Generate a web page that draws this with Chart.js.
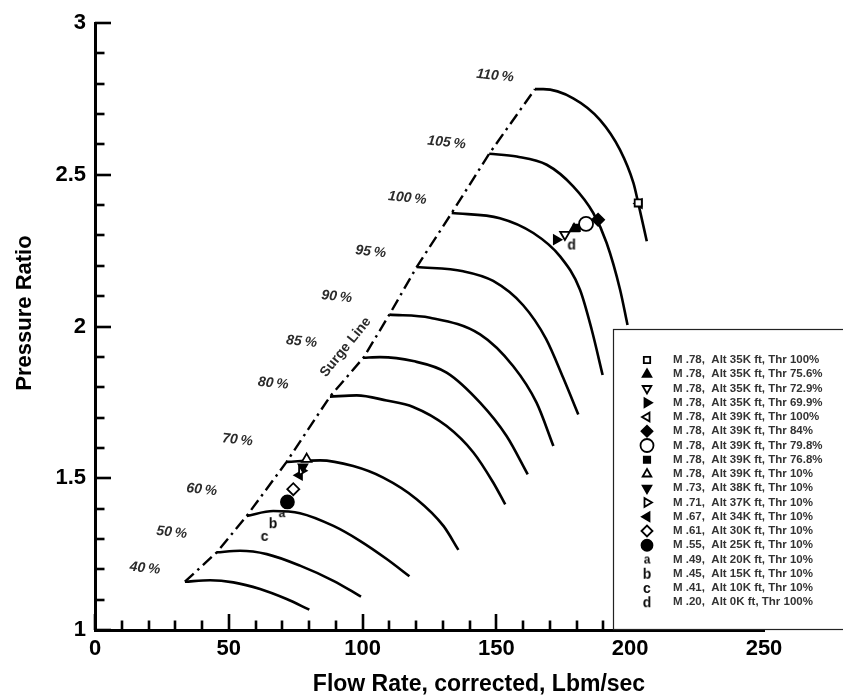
<!DOCTYPE html>
<html>
<head>
<meta charset="utf-8">
<script src="https://cdn.jsdelivr.net/npm/chart.js@4.4.0/dist/chart.umd.min.js"></script>
<style>
  html, body { margin: 0; padding: 0; background: #fff; }
  #map { display: block; }
</style>
</head>
<body>
<canvas id="map" width="843" height="698"></canvas>
<script>
// Compressor map: corrected speed lines, surge line and operating points

const xTickLabels = [0, 50, 100, 150, 200, 250];
const yTickLabels = [1, 1.5, 2, 2.5, 3];

const speedNames = ['40%', '50%', '60%', '70%', '80%', '85%', '90%', '95%', '100%', '105%', '110%'];

// [flow, pressure ratio] along each speed line
const line40 = [[33.6, 1.159], [43, 1.164], [51.7, 1.157], [61.7, 1.135], [71.6, 1.102], [80.1, 1.067]];
const line50 = [[45.5, 1.256], [54.2, 1.261], [64.2, 1.250], [76.6, 1.212], [89.1, 1.162], [99.4, 1.110]];
const line60 = [[56.7, 1.376], [66.6, 1.392], [76.6, 1.385], [89.1, 1.343], [99.0, 1.294], [109.0, 1.234], [117.5, 1.177]];
const line70 = [[71.6, 1.554], [84.1, 1.559], [96.5, 1.540], [107.7, 1.502], [120.2, 1.431], [130.2, 1.343], [135.8, 1.264]];
const line80 = [[87.8, 1.769], [97.8, 1.773], [109, 1.756], [118.9, 1.735], [131.4, 1.672], [141.4, 1.585], [148.8, 1.486], [153.3, 1.414]];
const line85 = [[100.3, 1.897], [106.5, 1.899], [118.9, 1.886], [131.4, 1.848], [143.9, 1.749], [153.8, 1.639], [161.7, 1.513]];
const line90 = [[110.0, 2.039], [125.2, 2.029], [143.9, 1.974], [156.3, 1.869], [165.0, 1.749], [171.3, 1.606]];
const line95 = [[120.2, 2.196], [137.6, 2.182], [148.8, 2.150], [160, 2.070], [168.5, 1.960], [175, 1.830], [180.6, 1.710]];
const line100 = [[133.3, 2.374], [151.3, 2.357], [163.8, 2.308], [173.8, 2.231], [181.2, 2.122], [185.6, 1.990], [189.7, 1.840]];
const line105 = [[147.3, 2.569], [157.6, 2.560], [168.8, 2.533], [178.7, 2.462], [186.2, 2.374], [191.2, 2.275], [196.2, 2.122], [199.0, 2.005]];
const line110 = [[164.4, 2.782], [167.5, 2.782], [178.7, 2.752], [188.7, 2.681], [196.2, 2.582], [201.2, 2.473], [203.0, 2.407], [206.2, 2.281]];

const speedLines = [line40, line50, line60, line70, line80, line85, line90, line95, line100, line105, line110];

// surge line runs through the left end of every speed line
const surgeFlow = [33.6, 45.5, 56.7, 71.6, 87.8, 100.3, 110.0, 120.2, 133.3, 147.3, 164.4];
const surgePR = [1.159, 1.256, 1.376, 1.554, 1.769, 1.897, 2.039, 2.196, 2.374, 2.569, 2.782];

// operating points
const pointNames = [
    'M .78,  Alt 35K ft, Thr 100%',
    'M .78,  Alt 35K ft, Thr 75.6%',
    'M .78,  Alt 35K ft, Thr 72.9%',
    'M .78,  Alt 35K ft, Thr 69.9%',
    'M .78,  Alt 39K ft, Thr 100%',
    'M .78,  Alt 39K ft, Thr 84%',
    'M .78,  Alt 39K ft, Thr 79.8%',
    'M .78,  Alt 39K ft, Thr 76.8%',
    'M .78,  Alt 39K ft, Thr 10%',
    'M .73,  Alt 38K ft, Thr 10%',
    'M .71,  Alt 37K ft, Thr 10%',
    'M .67,  Alt 34K ft, Thr 10%',
    'M .61,  Alt 30K ft, Thr 10%',
    'M .55,  Alt 25K ft, Thr 10%',
    'M .49,  Alt 20K ft, Thr 10%',
    'M .45,  Alt 15K ft, Thr 10%',
    'M .41,  Alt 10K ft, Thr 10%',
    'M .20,  Alt 0K ft, Thr 100%'
];
const pointFlow = [203.0, 179.0, 175.6, 172.4, 203.4, 188.0, 183.5, 180.0, 79.1, 77.7, 77.2, 76.4, 74.1, 71.9, 69.8, 66.5, 63.4, 178.1];
const pointPR = [2.407, 2.322, 2.303, 2.286, 2.405, 2.352, 2.338, 2.325, 1.563, 1.537, 1.525, 1.510, 1.464, 1.422, 1.385, 1.352, 1.310, 2.270];

// where the speed labels sit (flow, pressure ratio)
const speedLabelFlow = [18.7, 28.7, 39.9, 53.2, 66.6, 77.2, 90.3, 103.0, 116.7, 131.4, 149.5];
const speedLabelPR = [1.203, 1.321, 1.462, 1.626, 1.8125, 1.950, 2.098, 2.246, 2.423, 2.606, 2.826];

const FONT = '"Liberation Sans", Arial, sans-serif';

// letter symbols used as point styles
function letterSymbol(ch, size) {
    const c = document.createElement('canvas');
    c.width = size + 2;
    c.height = size + 4;
    const g = c.getContext('2d');
    g.fillStyle = '#111';
    g.font = 'bold ' + size + 'px ' + FONT;
    g.textAlign = 'center';
    g.textBaseline = 'middle';
    g.fillText(ch, c.width / 2, c.height / 2 + 1);
    return c;
}

// style, rotation, filled, radius
const pointLook = [
    ['rect', 0, false, 5],
    ['triangle', 0, true, 5],
    ['triangle', 180, false, 5.5],
    ['triangle', 90, true, 5],
    ['triangle', -90, false, 5],
    ['rectRot', 0, true, 6],
    ['circle', 0, false, 7],
    ['rect', 0, true, 4.5],
    ['triangle', 0, false, 5.5],
    ['triangle', 180, true, 5],
    ['triangle', 90, false, 5],
    ['triangle', -90, true, 5],
    ['rectRot', 0, false, 6],
    ['circle', 0, true, 6.5],
    [letterSymbol('a', 12), 0, true, 5],
    [letterSymbol('b', 14), 0, true, 5],
    [letterSymbol('c', 14), 0, true, 5],
    [letterSymbol('d', 14), 0, true, 5]
];

const datasets = [];
speedLines.forEach((line, i) => {
    datasets.push({
        label: speedNames[i],
        data: line.map(p => ({ x: p[0], y: p[1] })),
        showLine: true,
        borderColor: '#000',
        borderWidth: 2.6,
        pointRadius: 0,
        cubicInterpolationMode: 'monotone',
        order: 2
    });
});
datasets.push({
    label: 'Surge Line',
    data: surgeFlow.map((f, i) => ({ x: f, y: surgePR[i] })),
    showLine: true,
    borderColor: '#000',
    borderWidth: 2.4,
    borderDash: [12, 5, 2.5, 5],
    pointRadius: 0,
    tension: 0,
    order: 2
});
pointNames.forEach((name, i) => {
    const look = pointLook[i];
    datasets.push({
        label: name,
        data: [{ x: pointFlow[i], y: pointPR[i] }],
        showLine: false,
        pointStyle: look[0],
        rotation: look[1],
        pointRadius: look[3],
        pointBackgroundColor: look[2] ? '#000' : '#fff',
        pointBorderColor: '#000',
        pointBorderWidth: 1.8,
        order: 1
    });
});

function isMultiple(v, step) {
    const r = v / step;
    return Math.abs(r - Math.round(r)) < 1e-6;
}

// inward tick marks on both axes
const innerTicks = {
    id: 'innerTicks',
    afterDraw(chart) {
        const { ctx, chartArea } = chart;
        const xs = chart.scales.x, ys = chart.scales.y;
        ctx.save();
        ctx.strokeStyle = '#000';
        ctx.lineWidth = 2.6;
        xs.ticks.forEach(t => {
            const px = Math.round(xs.getPixelForValue(t.value));
            const len = isMultiple(t.value, 50) ? 16 : 9.5;
            ctx.beginPath();
            ctx.moveTo(px, chartArea.bottom);
            ctx.lineTo(px, chartArea.bottom - len);
            ctx.stroke();
        });
        ys.ticks.forEach(t => {
            const py = Math.round(ys.getPixelForValue(t.value));
            const len = isMultiple(t.value, 0.5) ? 16 : 9.5;
            ctx.beginPath();
            ctx.moveTo(chartArea.left, py);
            ctx.lineTo(chartArea.left + len, py);
            ctx.stroke();
        });
        ctx.restore();
    }
};

// axis titles, placed by hand
const axisTitles = {
    id: 'axisTitles',
    afterDraw(chart) {
        const { ctx } = chart;
        ctx.save();
        ctx.fillStyle = '#000';
        ctx.textAlign = 'center';
        ctx.textBaseline = 'middle';
        ctx.font = 'bold 23px ' + FONT;
        ctx.fillText('Flow Rate, corrected, Lbm/sec', 479, 685);
        ctx.translate(25, 313);
        ctx.rotate(-Math.PI / 2);
        ctx.font = 'bold 22px ' + FONT;
        ctx.fillText('Pressure Ratio', 0, 0);
        ctx.restore();
    }
};

// speed percentages and the surge line caption
const mapLabels = {
    id: 'mapLabels',
    afterDatasetsDraw(chart) {
        const { ctx } = chart;
        const xs = chart.scales.x, ys = chart.scales.y;
        ctx.save();
        ctx.fillStyle = '#2b2b2b';
        ctx.font = 'italic bold 14px ' + FONT;
        ctx.textAlign = 'center';
        ctx.textBaseline = 'middle';
        speedNames.forEach((name, i) => {
            ctx.save();
            ctx.translate(xs.getPixelForValue(speedLabelFlow[i]), ys.getPixelForValue(speedLabelPR[i]));
            ctx.rotate(6 * Math.PI / 180);
            ctx.fillText(name.replace('%', '\u2009%'), 0, 0);
            ctx.restore();
        });
        ctx.translate(xs.getPixelForValue(93.7), ys.getPixelForValue(1.932));
        ctx.rotate(-51 * Math.PI / 180);
        ctx.font = 'bold 14px ' + FONT;
        ctx.fillText('Surge Line', 0, 0);
        ctx.restore();
    }
};

// legend box in the lower right corner
const keyBox = {
    id: 'keyBox',
    afterDraw(chart) {
        const { ctx } = chart;
        const top = 329, left = 613, bottom = 629;
        ctx.save();
        ctx.fillStyle = '#fff';
        ctx.fillRect(left, top, chart.width - left + 2, bottom - top);
        ctx.strokeStyle = '#222';
        ctx.lineWidth = 1.2;
        ctx.strokeRect(left + 0.5, top + 0.5, chart.width - left + 4, bottom - top);
        const rowH = 14.25;
        pointNames.forEach((name, i) => {
            const look = pointLook[i];
            const y = 360 + i * rowH;
            const x = 647;
            let r = 4.5;
            if (look[0] === 'circle' && !look[2]) r = 6.5;
            else if (look[0] === 'circle') r = 5.5;
            else if (look[0] === 'rectRot') r = 5.5;
            else if (look[0] === 'triangle') r = 5;
            ctx.fillStyle = look[2] ? '#000' : '#fff';
            ctx.strokeStyle = '#000';
            ctx.lineWidth = 1.8;
            Chart.helpers.drawPoint(ctx, { pointStyle: look[0], rotation: look[1], radius: r, borderWidth: 1.8 }, x, y);
            ctx.fillStyle = '#333';
            ctx.font = 'bold 11.5px ' + FONT;
            ctx.textAlign = 'left';
            ctx.textBaseline = 'middle';
            ctx.fillText(name, 673, y);
        });
        ctx.restore();
    }
};

const ctx = document.getElementById('map');
const compressorMap = new Chart(ctx, {
    type: 'scatter',
    data: { datasets: datasets },
    options: {
        responsive: false,
        animation: false,
        layout: { padding: { top: 23, right: 79, left: 0, bottom: 0 } },
        plugins: {
            legend: { display: false },
            tooltip: { enabled: false }
        },
        scales: {
            x: {
                type: 'linear',
                min: 0,
                max: 250,
                afterFit(scale) { scale.height = 68; },
                grid: { display: false, drawTicks: false },
                border: { display: true, color: '#000', width: 3 },
                ticks: {
                    stepSize: 10,
                    autoSkip: false,
                    maxRotation: 0,
                    padding: 6,
                    color: '#000',
                    font: { family: FONT, size: 22, weight: 'bold' },
                    callback: v => xTickLabels.includes(v) ? String(v) : ''
                }
            },
            y: {
                type: 'linear',
                min: 1,
                max: 3,
                afterFit(scale) { scale.width = 95; },
                grid: { display: false, drawTicks: false },
                border: { display: true, color: '#000', width: 3 },
                ticks: {
                    stepSize: 0.1,
                    autoSkip: false,
                    padding: 9,
                    color: '#000',
                    font: { family: FONT, size: 22, weight: 'bold' },
                    callback: v => {
                        const hit = yTickLabels.find(l => Math.abs(l - v) < 1e-6);
                        return hit === undefined ? '' : String(hit);
                    }
                }
            }
        }
    },
    plugins: [mapLabels, innerTicks, axisTitles, keyBox]
});
</script>
</body>
</html>
